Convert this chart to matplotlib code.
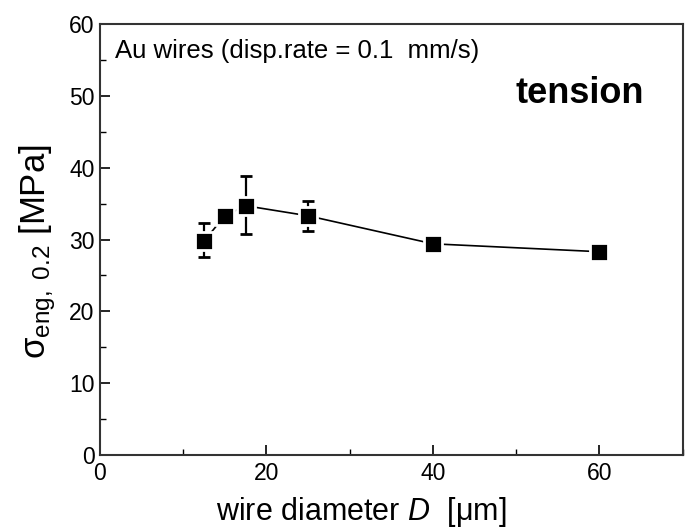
import matplotlib.pyplot as plt
from matplotlib.ticker import MultipleLocator

plt.rcParams["font.family"] = ["Liberation Sans", "DejaVu Sans"]
plt.rcParams["mathtext.fontset"] = "custom"
plt.rcParams["mathtext.rm"] = "Liberation Sans"
plt.rcParams["mathtext.it"] = "Liberation Sans:italic"

# ------------------------------------
# Data: Au wires, tension
# ------------------------------------
diameter = [12.5, 15, 17.5, 25, 40, 60]
stress = [29.8, 33.3, 34.7, 33.3, 29.4, 28.3]
err_low = [2.3, 0.0, 4.0, 2.1, 0.0, 0.0]
err_high = [2.5, 0.0, 4.1, 2.1, 0.0, 0.0]

fig = plt.figure(figsize=(6.91, 5.3), dpi=100)
ax = fig.add_axes([0.1447, 0.1415, 0.8433, 0.8132])

ax.errorbar(
    diameter, stress,
    yerr=[err_low, err_high],
    color="black", ecolor="black", marker="s", markersize=13,
    markerfacecolor="black", markeredgecolor="white", markeredgewidth=2,
    linewidth=1.2, elinewidth=1.6, capsize=4.5, capthick=1.6
)

ax.set_xlim(0, 70)
ax.set_ylim(0, 60)
ax.xaxis.set_major_locator(MultipleLocator(20))
ax.xaxis.set_minor_locator(MultipleLocator(10))
ax.yaxis.set_major_locator(MultipleLocator(10))
ax.yaxis.set_minor_locator(MultipleLocator(5))
ax.tick_params(which="both", direction="in", labelsize=16.5, color="black")
ax.tick_params(which="major", length=7, width=1.2)
ax.tick_params(which="minor", length=4, width=1.0)
ax.tick_params(axis="x", pad=5)
ax.tick_params(axis="y", pad=4)

for s in ax.spines.values():
    s.set_linewidth(1.5)
    s.set_color("#333333")

ax.text(1.8, 56.2, "Au wires (disp.rate = 0.1  mm/s)", fontsize=18.5, va="center")
ax.text(65.4, 50.3, "tension", fontsize=26, fontweight="bold", ha="right", va="center")

ax.set_xlabel(r"wire diameter $\mathit{D}$  [$\mathrm{\mu}$m]", fontsize=22)
ax.set_ylabel(r"σ$_{\mathrm{eng,\ 0.2}}$ [MPa]", fontsize=25)
ax.xaxis.set_label_coords(0.448, -0.092)
ax.yaxis.set_label_coords(-0.072, 0.471)

fig.savefig("out.png", dpi=100)
